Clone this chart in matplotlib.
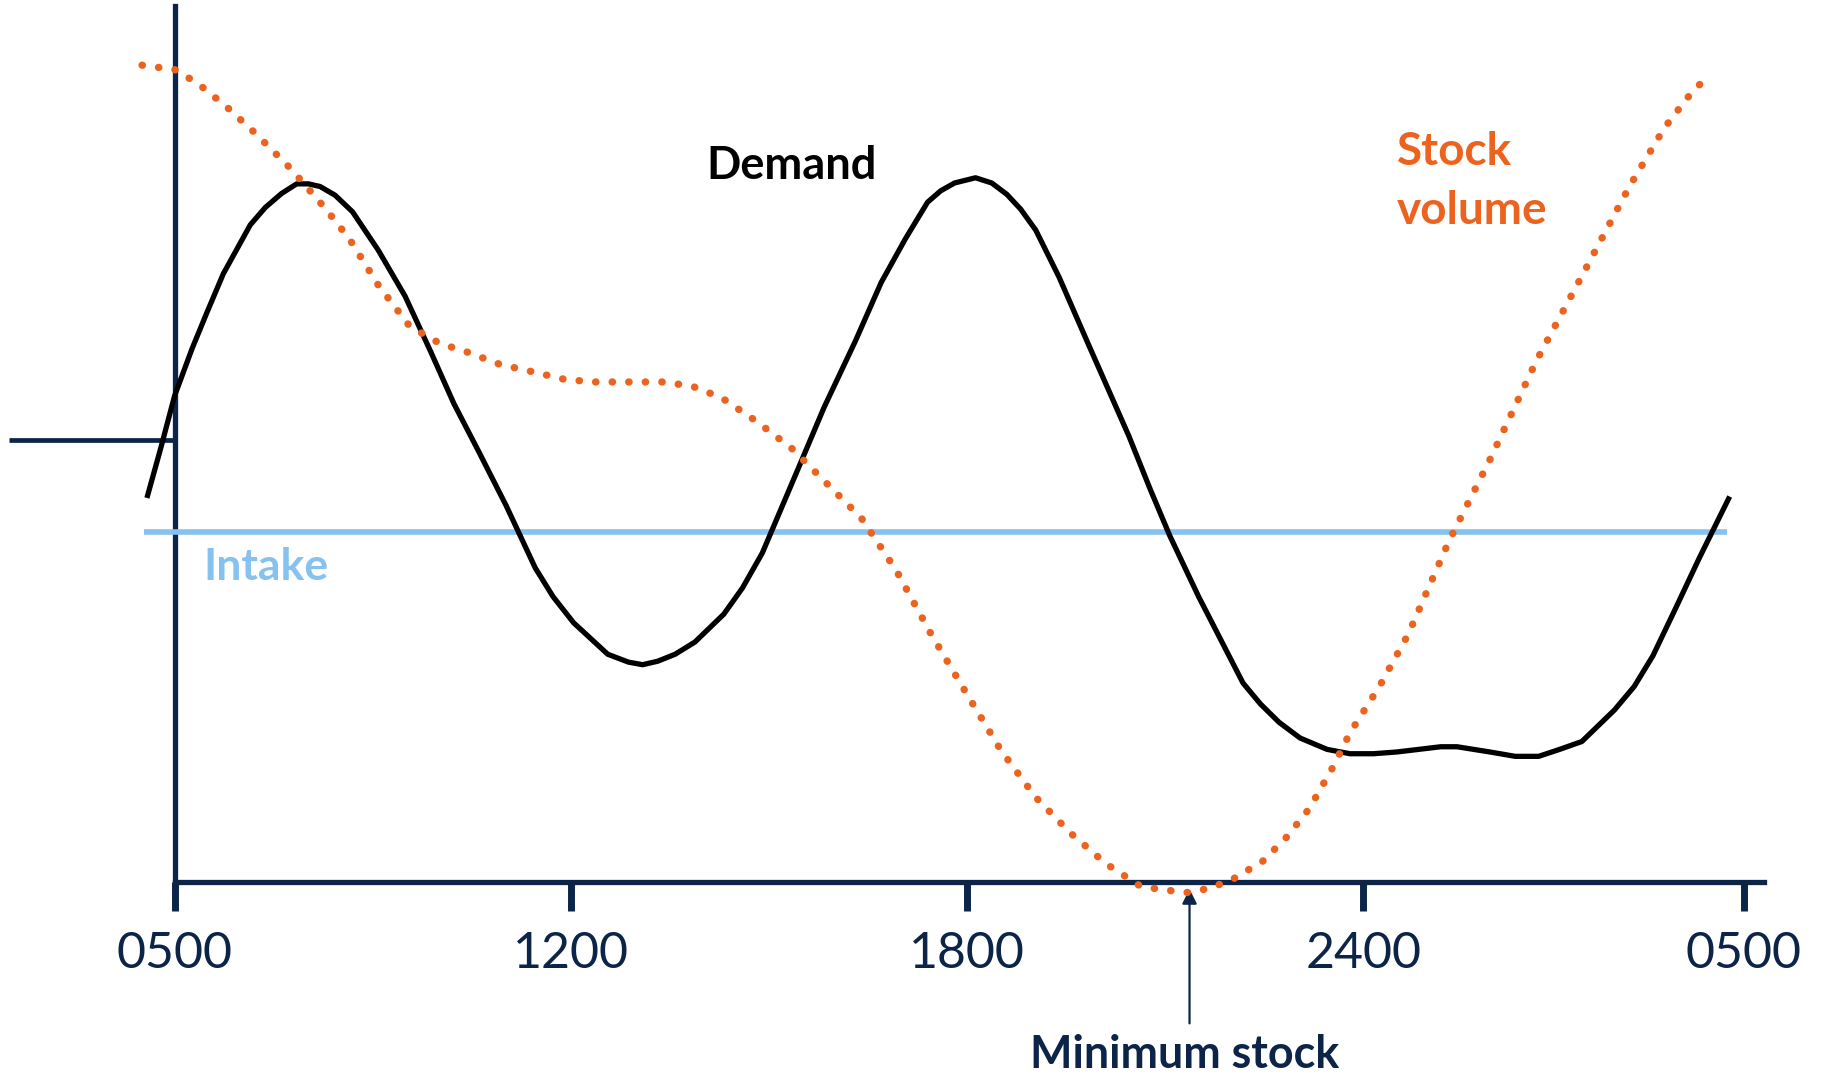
import numpy as np
import matplotlib.pyplot as plt

NAVY = '#0b2447'
ORANGE = '#ec631f'
SKY = '#86c2ef'

# time axis: evenly spaced clock labels
tick_pos = [0, 1, 2, 3, 3.96]
tick_labels = ['0500', '1200', '1800', '2400', '0500']

# demand over the day
demand_x = [-0.068, -0.035, 0.0, 0.044, 0.082, 0.123, 0.191, 0.229, 0.270, 0.308,
            0.338, 0.367, 0.405, 0.449, 0.514, 0.582, 0.646, 0.705, 0.770, 0.837,
            0.910, 0.955, 1.007, 1.093, 1.145, 1.181, 1.219, 1.263, 1.313, 1.386,
            1.433, 1.483, 1.571, 1.639, 1.718, 1.783, 1.844, 1.900, 1.933, 1.968,
            2.021, 2.062, 2.100, 2.135, 2.173, 2.232, 2.305, 2.408, 2.461, 2.511,
            2.584, 2.696, 2.740, 2.787, 2.840, 2.908, 2.966, 3.025, 3.084, 3.195,
            3.236, 3.319, 3.383, 3.442, 3.495, 3.551, 3.633, 3.683, 3.730, 3.789,
            3.847, 3.921]
demand_y = [44.3, 49.7, 55.7, 61.1, 65.3, 69.7, 75.3, 77.3, 78.9, 80.0,
            80.0, 79.7, 78.7, 76.8, 72.4, 67.1, 60.8, 54.8, 49.1, 43.1,
            36.0, 32.7, 29.7, 26.1, 25.2, 24.9, 25.3, 26.1, 27.5, 30.7,
            33.7, 37.7, 47.1, 54.4, 62.0, 68.7, 73.7, 77.9, 79.2, 80.1,
            80.7, 80.1, 78.8, 77.1, 74.7, 69.3, 61.7, 51.1, 45.1, 39.7,
            32.7, 22.8, 20.4, 18.3, 16.5, 15.2, 14.7, 14.7, 14.9, 15.5,
            15.5, 14.9, 14.4, 14.4, 15.2, 16.1, 19.7, 22.4, 25.9, 31.5,
            37.1, 43.9]

# stock held in the reservoir
stock_x = [-0.082, 0.0, 0.059, 0.132, 0.206, 0.294, 0.382, 0.441, 0.514, 0.593,
           0.670, 0.734, 0.822, 0.910, 0.984, 1.057, 1.145, 1.234, 1.307, 1.380,
           1.468, 1.557, 1.645, 1.733, 1.821, 1.909, 1.997, 2.085, 2.173, 2.261,
           2.350, 2.438, 2.496, 2.555, 2.614, 2.673, 2.746, 2.805, 2.863, 2.922,
           2.966, 3.040, 3.113, 3.216, 3.319, 3.436, 3.554, 3.671, 3.759, 3.818,
           3.871]
stock_y = [93.6, 93.1, 91.5, 88.8, 85.7, 81.7, 77.1, 73.7, 68.4, 63.7,
           61.7, 60.8, 59.3, 58.4, 57.6, 57.3, 57.3, 57.3, 56.8, 55.5,
           52.8, 49.7, 45.7, 41.7, 35.7, 28.4, 21.7, 15.1, 9.7, 5.6,
           2.1, -0.5, -0.9, -1.2, -0.7, 0.4, 2.4, 5.1, 8.4, 13.1,
           17.1, 22.4, 28.4, 39.1, 48.4, 59.7, 69.7, 79.7, 86.4, 89.9,
           92.5]

intake_level = 40.1
intake_span = (-0.076, 3.918)
reference_level = 50.7
min_stock_x = 2.561


def main():
    plt.rcParams['font.family'] = ['Lato', 'DejaVu Sans']
    fig = plt.figure(figsize=(18.25, 10.74), dpi=100)
    ax = fig.add_axes([0, 0, 1, 1])
    ax.set_xlim(-0.4405, 4.1645)
    ax.set_ylim(-22.0, 101.07)

    for side in ('top', 'right'):
        ax.spines[side].set_visible(False)
    for side in ('left', 'bottom'):
        ax.spines[side].set_position(('data', 0))
        ax.spines[side].set_color(NAVY)
        ax.spines[side].set_linewidth(3.8)
    ax.spines['left'].set_bounds(0, 100.4)
    ax.spines['bottom'].set_bounds(0, 4.01)

    ax.set_yticks([])
    ax.set_xticks(tick_pos, tick_labels)
    ax.tick_params(axis='x', direction='out', length=21, width=5, color=NAVY,
                   labelcolor=NAVY, labelsize=36, pad=14)

    # level marker left of the axis
    ax.hlines(reference_level, -0.417, 0, color=NAVY, lw=3.4, zorder=3)

    ax.hlines(intake_level, *intake_span, color=SKY, lw=4.0, zorder=3)
    ax.plot(demand_x, demand_y, color='black', lw=3.8, zorder=4)
    ax.plot(stock_x, stock_y, color=ORANGE, lw=5.3, zorder=5,
            linestyle=(0, (0.05, 2.2)), dash_capstyle='round')

    ax.text(1.5565, 82.0, 'Demand', color='black', fontsize=32.5,
            fontweight='bold', ha='center', va='center')
    ax.text(3.084, 80.3, 'Stock\nvolume', color=ORANGE, fontsize=33,
            fontweight='bold', ha='left', va='center', linespacing=1.5)
    ax.text(0.073, 36.1, 'Intake', color=SKY, fontsize=32,
            fontweight='bold', ha='left', va='center')

    ax.annotate('', xy=(min_stock_x, -0.8), xytext=(min_stock_x, -16.2),
                arrowprops=dict(arrowstyle='-|>', color=NAVY, lw=1.6,
                                mutation_scale=22, shrinkA=0, shrinkB=0))
    ax.text(2.549, -19.8, 'Minimum stock', color=NAVY, fontsize=32.3,
            fontweight='bold', ha='center', va='center')

    fig.savefig('out.png', dpi=100)


if __name__ == '__main__':
    main()
